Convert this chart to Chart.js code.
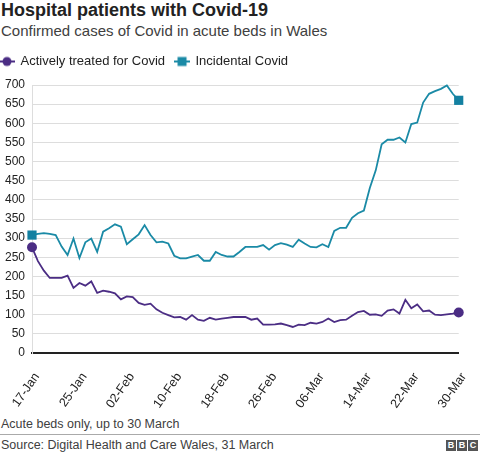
<!DOCTYPE html>
<html>
<head>
<meta charset="utf-8">
<script src="https://cdn.jsdelivr.net/npm/chart.js@4.4.1/dist/chart.umd.min.js"></script>
<style>
body { margin: 0; background: #fff; font-family: "Liberation Sans", Arial, sans-serif; }
#wrap { position: relative; width: 480px; height: 455px; overflow: hidden; }
.title { position: absolute; left: 1px; top: 0px; font-size: 18px; font-weight: bold; color: #222; }
.subtitle { position: absolute; left: 1px; top: 22px; font-size: 15px; color: #404040; }
#box { position: absolute; left: -10px; top: 45px; width: 490px; height: 371px; }
.note { position: absolute; left: 1px; top: 417px; font-size: 12.5px; color: #404040; }
.rule { position: absolute; left: 0; top: 434px; width: 480px; height: 1px; background: #aaa; }
.source { position: absolute; left: 1px; top: 438px; font-size: 12.5px; color: #404040; }
.bbc { position: absolute; right: 2px; top: 440px; display: flex; gap: 1px; }
.bbc span { width: 10px; height: 11px; background: #555; color: #fff; font-size: 9px; font-weight: bold; text-align: center; line-height: 11px; }
</style>
</head>
<body>
<div id="wrap">
  <div class="title">Hospital patients with Covid-19</div>
  <div class="subtitle">Confirmed cases of Covid in acute beds in Wales</div>
  <div id="box"><canvas id="myChart"></canvas></div>
  <div class="note">Acute beds only, up to 30 March</div>
  <div class="rule"></div>
  <div class="source">Source: Digital Health and Care Wales, 31 March</div>
  <div class="bbc"><span>B</span><span>B</span><span>C</span></div>
</div>
<script>
// daily, 17 Jan to 30 Mar
var tickLabels = ["17-Jan", "25-Jan", "02-Feb", "10-Feb", "18-Feb", "26-Feb", "06-Mar", "14-Mar", "22-Mar", "30-Mar"];
var months = ["Jan", "Feb", "Mar"];
var days = [];
for (var d = new Date(2022, 0, 17); d <= new Date(2022, 2, 30); d.setDate(d.getDate() + 1)) {
    days.push(String(d.getDate()).padStart(2, "0") + "-" + months[d.getMonth()]);
}
var yTicks = [0, 50, 100, 150, 200, 250, 300, 350, 400, 450, 500, 550, 600, 650, 700];

var activeCovid = [276, 240, 215, 196, 196, 196, 202, 170, 183, 176, 187, 157, 163, 160, 156, 140, 148, 146, 131, 126,
    129, 114, 105, 99, 93, 94, 87, 99, 87, 84, 92, 87, 90, 92, 94, 94, 94, 87, 90, 74,
    74, 75, 77, 73, 68, 74, 73, 79, 77, 81, 90, 81, 86, 87, 97, 107, 110, 100, 101, 97,
    111, 114, 103, 139, 117, 127, 109, 111, 100, 99, 101, 103, 106];
var incidentalCovid = [308, 311, 313, 311, 308, 278, 256, 299, 248, 289, 299, 264, 317, 326, 336, 330, 284, 297, 310, 334,
    308, 289, 291, 286, 254, 247, 247, 252, 256, 241, 241, 264, 256, 252, 252, 264, 277, 277, 277, 282,
    270, 282, 287, 283, 277, 296, 286, 277, 276, 284, 277, 319, 327, 327, 353, 365, 372, 431, 477, 545,
    557, 557, 563, 550, 598, 602, 654, 677, 684, 690, 699, 677, 660];

var purple = "#4b2d84";
var teal = "#1a8aa6";

function legendIcon(color, shape) {
    var c = document.createElement("canvas");
    c.width = 16; c.height = 12;
    var g = c.getContext("2d");
    g.strokeStyle = color; g.lineWidth = 2;
    g.beginPath(); g.moveTo(0, 6); g.lineTo(16, 6); g.stroke();
    g.fillStyle = color;
    if (shape == "circle") { g.beginPath(); g.arc(8, 6, 4.5, 0, Math.PI * 2); g.fill(); }
    else g.fillRect(3.5, 1.5, 9, 9);
    return c;
}
var icons = [legendIcon(purple, "circle"), legendIcon(teal, "rect")];

function endsOnly(r) {
    return function (c) { return (c.dataIndex == 0 || c.dataIndex == days.length - 1) ? r : 0; };
}

var ctx = document.getElementById("myChart");
new Chart(ctx, {
    type: "line",
    data: {
        labels: days,
        datasets: [{
            label: "Actively treated for Covid",
            data: activeCovid,
            borderColor: purple,
            backgroundColor: purple,
            borderWidth: 1.8,
            pointStyle: "circle",
            pointRadius: endsOnly(5),
            pointBorderWidth: 0,
            clip: false
        }, {
            label: "Incidental Covid",
            data: incidentalCovid,
            borderColor: teal,
            backgroundColor: "#1380a1",
            borderWidth: 1.8,
            pointStyle: "rect",
            pointRadius: endsOnly(6.5),
            pointBorderWidth: 0,
            clip: false
        }]
    },
    options: {
        responsive: true,
        maintainAspectRatio: false,
        animation: false,
        layout: { padding: { left: 0, right: 10, top: 0, bottom: 0 } },
        plugins: {
            tooltip: { enabled: false },
            legend: {
                position: "top",
                align: "start",
                labels: {
                    usePointStyle: true,
                    pointStyleWidth: 14,
                    padding: 10,
                    color: "#222",
                    font: { family: "'Liberation Sans', Arial, sans-serif", size: 13 },
                    generateLabels: function (chart) {
                        var items = Chart.defaults.plugins.legend.labels.generateLabels(chart);
                        items.forEach(function (it, i) { it.pointStyle = icons[i]; });
                        return items;
                    }
                }
            },
            // empty spacer between legend and plot
            subtitle: { display: true, text: "", weight: 500, font: { size: 7, lineHeight: 1 }, padding: 0 }
        },
        scales: {
            x: {
                offset: false,
                grid: { display: false },
                border: { color: "#222", width: 2 },
                afterFit: function (s) { s.height = 63; },
                ticks: {
                    autoSkip: false,
                    minRotation: 55,
                    maxRotation: 55,
                    padding: 9,
                    labelOffset: 5,
                    color: "#222",
                    font: { family: "'Liberation Sans', Arial, sans-serif", size: 12.5 },
                    callback: function (v, i) { return tickLabels.indexOf(days[i]) >= 0 ? days[i] : ""; }
                }
            },
            y: {
                min: yTicks[0],
                max: yTicks[yTicks.length - 1],
                afterFit: function (s) { s.width = 42; },
                grid: { color: "#dddddd", drawTicks: false },
                border: { color: "#dddddd" },
                ticks: {
                    stepSize: 50,
                    padding: 7,
                    color: "#222",
                    font: { family: "'Liberation Sans', Arial, sans-serif", size: 12 }
                }
            }
        }
    }
});
</script>
</body>
</html>
